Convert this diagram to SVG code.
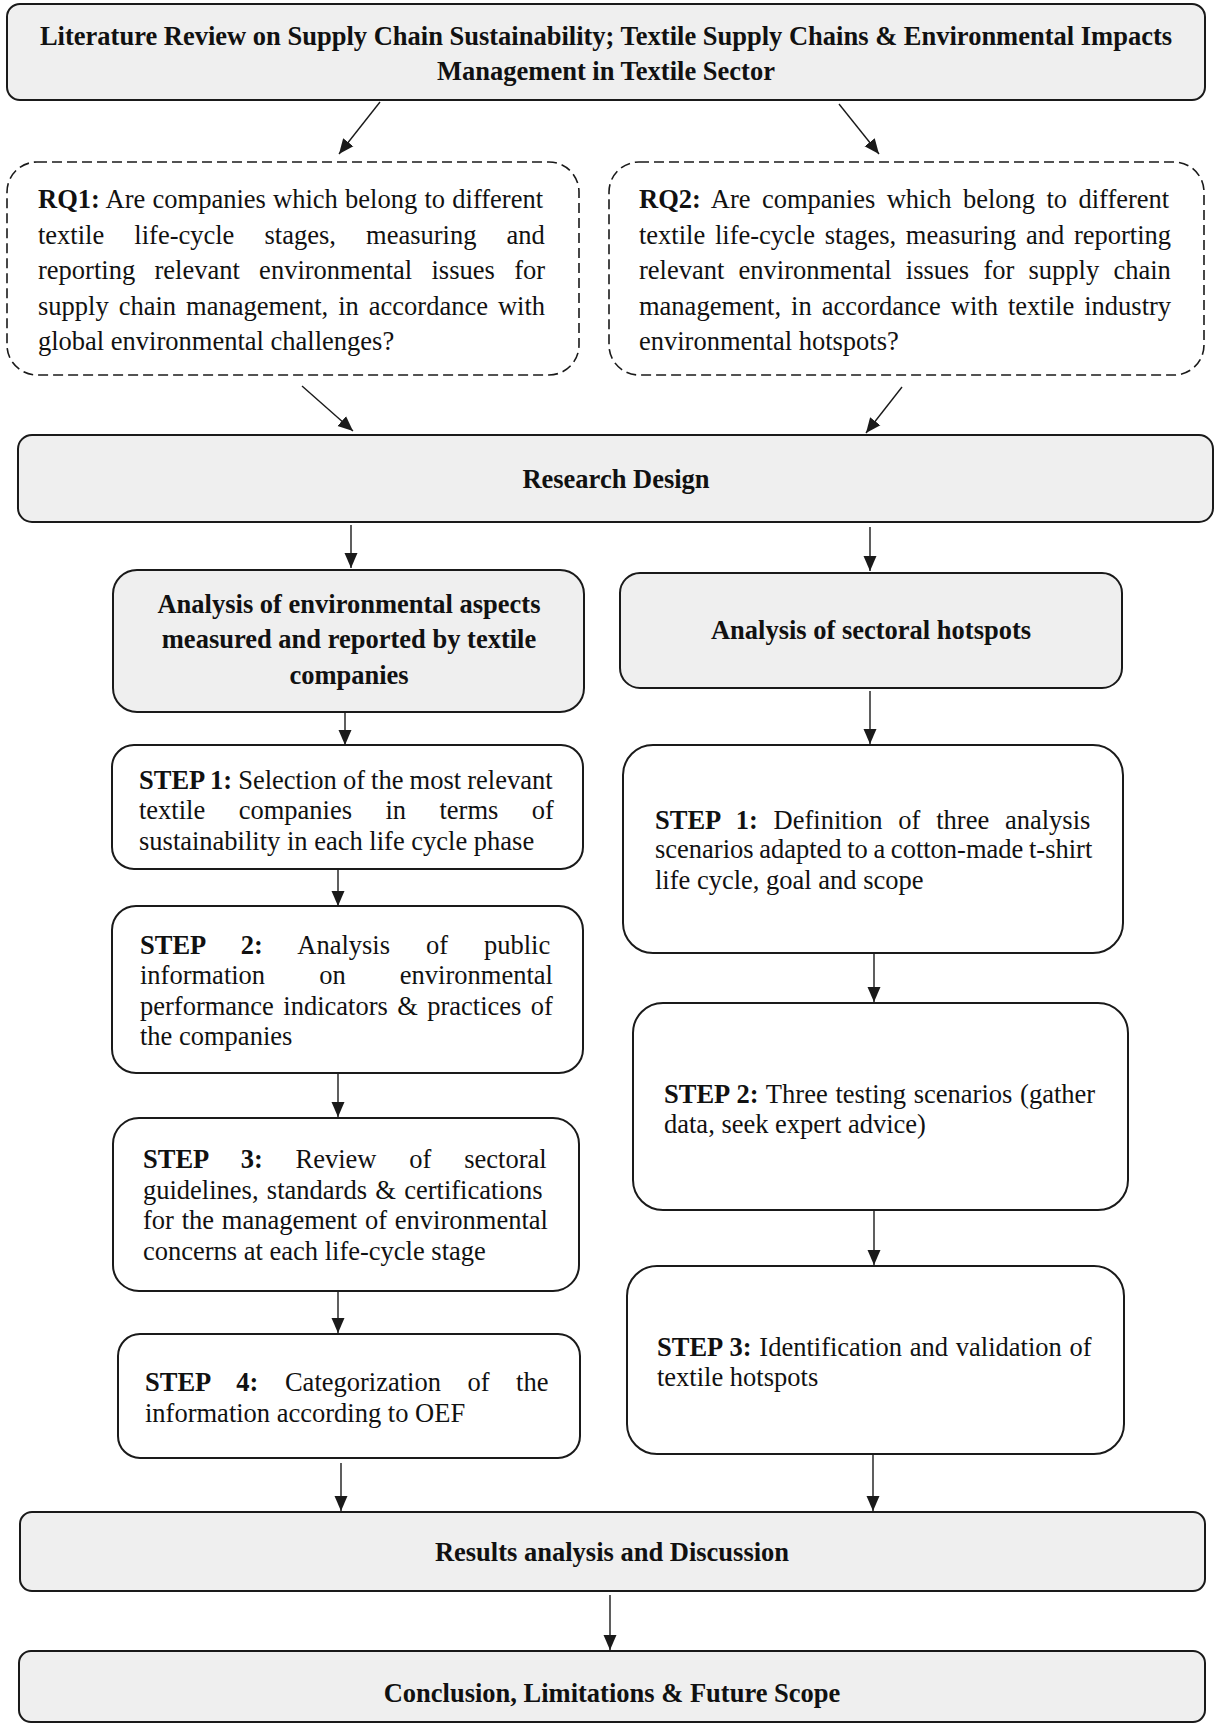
<svg xmlns="http://www.w3.org/2000/svg" width="1216" height="1724" viewBox="0 0 1216 1724">
<defs>
<marker id="ah" markerUnits="userSpaceOnUse" markerWidth="16" markerHeight="14" refX="15" refY="7" orient="auto">
<path d="M0,0.5 L15,7 L0,13.5 z" fill="#1a1a1a"/>
</marker>
<style>
.box{stroke:#1a1a1a;stroke-width:2;fill:#ffffff}
.gray{fill:#efefef}
.dash{stroke-dasharray:10 5;stroke-width:1.6}
.t{font-family:"Liberation Serif","Times New Roman",serif;font-size:26.5px;fill:#111}
.c{text-anchor:middle;font-weight:bold}
.b{font-weight:bold}
.con line{stroke:#1a1a1a;stroke-width:1.4;marker-end:url(#ah)}
</style>
</defs>
<rect width="1216" height="1724" fill="#ffffff"/>

<g id="literature">
<rect class="box gray" x="7" y="4" width="1198" height="96" rx="13"/>
<text class="t c" x="606" y="45">Literature Review on Supply Chain Sustainability; Textile Supply Chains &amp; Environmental Impacts</text>
<text class="t c" x="606" y="80">Management in Textile Sector</text>
</g>

<g id="rq1">
<rect class="box dash" x="7" y="162" width="572" height="213" rx="30"/>
<text class="t" x="38" y="208" word-spacing="0.6"><tspan class="b">RQ1:</tspan> Are companies which belong to different</text>
<text class="t" x="38" y="244" word-spacing="23.5">textile life-cycle stages, measuring and</text>
<text class="t" x="38" y="279" word-spacing="12.7">reporting relevant environmental issues for</text>
<text class="t" x="38" y="315" word-spacing="3.4">supply chain management, in accordance with</text>
<text class="t" x="38" y="350">global environmental challenges?</text>
</g>

<g id="rq2">
<rect class="box dash" x="609" y="162" width="595" height="213" rx="30"/>
<text class="t" x="639" y="208" word-spacing="4.8"><tspan class="b">RQ2:</tspan> Are companies which belong to different</text>
<text class="t" x="639" y="244" word-spacing="3.1">textile life-cycle stages, measuring and reporting</text>
<text class="t" x="639" y="279" word-spacing="7.6">relevant environmental issues for supply chain</text>
<text class="t" x="639" y="315" word-spacing="3.4">management, in accordance with textile industry</text>
<text class="t" x="639" y="350">environmental hotspots?</text>
</g>

<g id="research-design">
<rect class="box gray" x="18" y="435" width="1195" height="87" rx="14"/>
<text class="t c" x="616" y="488">Research Design</text>
</g>

<g id="analysis-aspects">
<rect class="box gray" x="113" y="570" width="471" height="142" rx="24"/>
<text class="t c" x="349" y="613">Analysis of environmental aspects</text>
<text class="t c" x="349" y="648">measured and reported by textile</text>
<text class="t c" x="349" y="684">companies</text>
</g>

<g id="analysis-hotspots">
<rect class="box gray" x="620" y="573" width="502" height="115" rx="20"/>
<text class="t c" x="871" y="639">Analysis of sectoral hotspots</text>
</g>

<g id="left-step1">
<rect class="box" x="112" y="745" width="471" height="124" rx="22"/>
<text class="t" x="139" y="789" word-spacing="-0.5"><tspan class="b">STEP 1:</tspan> Selection of the most relevant</text>
<text class="t" x="139" y="819" word-spacing="26.8">textile companies in terms of</text>
<text class="t" x="139" y="850">sustainability in each life cycle phase</text>
</g>

<g id="left-step2">
<rect class="box" x="112" y="906" width="471" height="167" rx="24"/>
<text class="t" x="140" y="954" word-spacing="29.3"><tspan class="b">STEP 2:</tspan> Analysis of public</text>
<text class="t" x="140" y="984" word-spacing="47.5">information on environmental</text>
<text class="t" x="140" y="1015" word-spacing="2.8">performance indicators &amp; practices of</text>
<text class="t" x="140" y="1045">the companies</text>
</g>

<g id="left-step3">
<rect class="box" x="113" y="1118" width="466" height="173" rx="26"/>
<text class="t" x="143" y="1168" word-spacing="26.2"><tspan class="b">STEP 3:</tspan> Review of sectoral</text>
<text class="t" x="143" y="1199" word-spacing="1.7">guidelines, standards &amp; certifications</text>
<text class="t" x="143" y="1229" word-spacing="1.15">for the management of environmental</text>
<text class="t" x="143" y="1260">concerns at each life-cycle stage</text>
</g>

<g id="left-step4">
<rect class="box" x="118" y="1334" width="462" height="124" rx="22"/>
<text class="t" x="145" y="1391" word-spacing="19.9"><tspan class="b">STEP 4:</tspan> Categorization of the</text>
<text class="t" x="145" y="1422">information according to OEF</text>
</g>

<g id="right-step1">
<rect class="box" x="623" y="745" width="500" height="208" rx="30"/>
<text class="t" x="655" y="829" word-spacing="9.2"><tspan class="b">STEP 1:</tspan> Definition of three analysis</text>
<text class="t" x="655" y="858" word-spacing="-1">scenarios adapted to a cotton-made t-shirt</text>
<text class="t" x="655" y="889">life cycle, goal and scope</text>
</g>

<g id="right-step2">
<rect class="box" x="633" y="1003" width="495" height="207" rx="30"/>
<text class="t" x="664" y="1103" word-spacing="1.1"><tspan class="b">STEP 2:</tspan> Three testing scenarios (gather</text>
<text class="t" x="664" y="1133">data, seek expert advice)</text>
</g>

<g id="right-step3">
<rect class="box" x="627" y="1266" width="497" height="188" rx="30"/>
<text class="t" x="657" y="1356" word-spacing="1.1"><tspan class="b">STEP 3:</tspan> Identification and validation of</text>
<text class="t" x="657" y="1386">textile hotspots</text>
</g>

<g id="results">
<rect class="box gray" x="20" y="1512" width="1185" height="79" rx="12"/>
<text class="t c" x="612" y="1561">Results analysis and Discussion</text>
</g>

<g id="conclusion">
<rect class="box gray" x="19" y="1651" width="1186" height="71" rx="12"/>
<text class="t c" x="612" y="1702">Conclusion, Limitations &amp; Future Scope</text>
</g>

<g id="connectors" class="con">
<line x1="380" y1="102" x2="339" y2="154"/>
<line x1="839" y1="104" x2="879" y2="154"/>
<line x1="302" y1="386" x2="353" y2="431"/>
<line x1="902" y1="387" x2="866" y2="433"/>
<line x1="351" y1="525" x2="351" y2="568"/>
<line x1="870" y1="527" x2="870" y2="571"/>
<line x1="345" y1="712" x2="345" y2="745"/>
<line x1="870" y1="691" x2="870" y2="744"/>
<line x1="338" y1="869" x2="338" y2="906"/>
<line x1="874" y1="953" x2="874" y2="1002"/>
<line x1="338" y1="1074" x2="338" y2="1117"/>
<line x1="874" y1="1210" x2="874" y2="1265"/>
<line x1="338" y1="1291" x2="338" y2="1333"/>
<line x1="873" y1="1454" x2="873" y2="1511"/>
<line x1="341" y1="1463" x2="341" y2="1511"/>
<line x1="610" y1="1595" x2="610" y2="1650"/>
</g>
</svg>
